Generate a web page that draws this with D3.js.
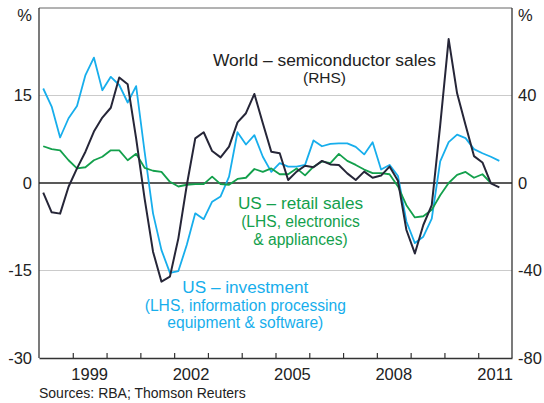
<!DOCTYPE html>
<html>
<head>
<meta charset="utf-8">
<script src="https://cdn.jsdelivr.net/npm/d3@7"></script>
<style>
  body { margin: 0; background: #fff; }
  text { font-family: "Liberation Sans", Arial, sans-serif; }
</style>
</head>
<body>
<div id="chart"></div>
<script>
// quarterly observations, first one is 1998 Q1
var startYear = 1998;
var yearTicks = [1999, 2002, 2005, 2008, 2011];
var leftTicks = [-30, -15, 0, 15];
var rightTicks = [-80, -40, 0, 40];

// US investment, information processing equipment & software (LHS, %)
var investment = [16.2, 13.1, 7.8, 11.1, 13.2, 18.5, 21.5, 15.9, 18.2, 16.8,
  13.8, 16.6, 5.4, -5.2, -11.5, -15.4, -15.1, -10.6, -5.2, -6.2,
  -3.2, -2.3, 1.1, 8.7, 6.6, 8.2, 4.5, 1.9, 3.4, 2.8,
  2.8, 3.1, 7.3, 6.3, 6.7, 6.8, 6.8, 6.2, 4.9, 7.0,
  2.3, 3.1, 1.2, -6.6, -10.3, -9.2, -6.1, 3.7, 7.0, 8.3,
  7.7, 5.8, 5.1, 4.5, 3.8];

// US retail sales, electronics & appliances (LHS, %)
var retail = [6.3, 5.8, 5.6, 3.9, 2.5, 2.7, 3.9, 4.5, 5.6, 5.6,
  3.9, 5.0, 2.6, 2.1, 1.9, 0.2, -0.6, -0.3, -0.2, -0.2,
  1.1, -0.2, -0.3, 0.7, 0.9, 2.4, 1.9, 2.5, 1.5, 1.5,
  2.5, 1.3, 2.8, 3.7, 3.4, 5.0, 3.8, 3.1, 2.3, 1.7,
  1.7, 1.5, -0.6, -3.8, -5.9, -5.7, -4.6, -2.1, 0.0, 1.4,
  1.9, 0.9, 1.5, 0.0];

// World semiconductor sales (RHS, %)
var semis = [-4.4, -13.4, -14.0, -1.7, 6.7, 14.3, 23.5, 29.9, 34.4, 48.2,
  45.1, 20.4, -7.0, -31.4, -45.1, -42.8, -25.3, -0.9, 20.4, 23.2,
  14.6, 11.7, 16.6, 27.7, 31.9, 40.7, 27.3, 14.3, 13.6, 1.4,
  5.2, 7.9, 7.2, 10.1, 8.5, 8.2, 4.4, 1.4, 5.2, 2.4,
  3.4, 7.5, 1.0, -21.5, -32.2, -19.2, -10.1, 26.5, 65.8, 41.0,
  26.5, 12.3, 9.4, -0.2, -2.0];

var width = 544, height = 403;
var plotL = 39, plotR = 512, plotT = 8, plotB = 358;

var svg = d3.select('#chart').append('svg')
  .attr('width', width)
  .attr('height', height);

var x = d3.scaleLinear().domain([1998, 2012]).range([plotL, plotR]);
var yL = d3.scaleLinear().domain([-30, 30]).range([plotB, plotT]);
var yR = d3.scaleLinear().domain([-80, 80]).range([plotB, plotT]);

// mid-quarter position
function qx(i) { return x(startYear + (i + 0.5) / 4); }

// grid lines
svg.selectAll('.grid')
  .data([-15, 15])
  .enter().append('line')
  .attr('x1', plotL).attr('x2', plotR)
  .attr('y1', d => yL(d)).attr('y2', d => yL(d))
  .attr('stroke', '#cbcbcb').attr('stroke-width', 1.2);

// frame
svg.append('line').attr('x1', plotL).attr('x2', plotR).attr('y1', plotT).attr('y2', plotT)
  .attr('stroke', '#666').attr('stroke-width', 1);
svg.append('line').attr('x1', plotL).attr('x2', plotL).attr('y1', plotT).attr('y2', plotB)
  .attr('stroke', '#333').attr('stroke-width', 1.3);
svg.append('line').attr('x1', plotR).attr('x2', plotR).attr('y1', plotT).attr('y2', plotB)
  .attr('stroke', '#333').attr('stroke-width', 1.3);

// bottom axis with inward ticks at each year
var xAxis = d3.axisBottom(x)
  .tickValues(d3.range(1999, 2012))
  .tickSizeInner(-5).tickSizeOuter(0)
  .tickFormat('');
var gx = svg.append('g').attr('transform', 'translate(0,' + plotB + ')').call(xAxis);
gx.select('.domain').attr('stroke', '#333').attr('stroke-width', 1.3);
gx.selectAll('.tick line').attr('stroke', '#333').attr('stroke-width', 1.2);

svg.selectAll('.xlab')
  .data(yearTicks)
  .enter().append('text')
  .attr('x', d => x(d + 0.5))
  .attr('y', 380)
  .attr('text-anchor', 'middle')
  .attr('font-size', 16.5)
  .attr('fill', '#222')
  .text(d => d);

// left and right tick labels
svg.selectAll('.ylab')
  .data(leftTicks)
  .enter().append('text')
  .attr('x', 32)
  .attr('y', d => yL(d))
  .attr('dy', '0.36em')
  .attr('text-anchor', 'end')
  .attr('font-size', 16.5)
  .attr('fill', '#222')
  .text(d => d);
svg.selectAll('.rlab')
  .data(rightTicks)
  .enter().append('text')
  .attr('x', 518)
  .attr('y', d => yR(d))
  .attr('dy', '0.36em')
  .attr('font-size', 16.5)
  .attr('fill', '#222')
  .text(d => d);
svg.append('text').attr('x', 32).attr('y', 21).attr('text-anchor', 'end')
  .attr('font-size', 16.5).attr('fill', '#222').text('%');
svg.append('text').attr('x', 518).attr('y', 21)
  .attr('font-size', 16.5).attr('fill', '#222').text('%');

// zero line
svg.append('line').attr('x1', plotL).attr('x2', plotR)
  .attr('y1', yL(0)).attr('y2', yL(0))
  .attr('stroke', '#222').attr('stroke-width', 1.3);

// series
var lineL = d3.line().x((d, i) => qx(i)).y(d => yL(d));
var lineR = d3.line().x((d, i) => qx(i)).y(d => yR(d));

svg.append('path').datum(investment).attr('d', lineL)
  .attr('fill', 'none').attr('stroke', '#17aeec').attr('stroke-width', 1.8)
  .attr('stroke-linejoin', 'round');
svg.append('path').datum(retail).attr('d', lineL)
  .attr('fill', 'none').attr('stroke', '#13a04c').attr('stroke-width', 1.8)
  .attr('stroke-linejoin', 'round');
svg.append('path').datum(semis).attr('d', lineR)
  .attr('fill', 'none').attr('stroke', '#262638').attr('stroke-width', 2)
  .attr('stroke-linejoin', 'round');

// annotations
function label(lines, cx, color) {
  lines.forEach(function(l) {
    svg.append('text')
      .attr('x', cx)
      .attr('y', l.y)
      .attr('text-anchor', 'middle')
      .attr('font-size', l.size)
      .attr('fill', color)
      .text(l.t);
  });
}
label([{ t: 'World – semiconductor sales', y: 65.5, size: 17.4 },
       { t: '(RHS)', y: 83, size: 15.5 }], 324.5, '#222');
label([{ t: 'US – retail sales', y: 209, size: 17.2 },
       { t: '(LHS, electronics', y: 227, size: 15.6 },
       { t: '& appliances)', y: 245, size: 15.6 }], 300.5, '#13a04c');
label([{ t: 'US – investment', y: 292.5, size: 17.2 },
       { t: '(LHS, information processing', y: 310.5, size: 15.6 },
       { t: 'equipment & software)', y: 328, size: 15.6 }], 245.3, '#17aeec');

svg.append('text').attr('x', 39).attr('y', 398)
  .attr('font-size', 14).attr('fill', '#222')
  .text('Sources: RBA; Thomson Reuters');
</script>
</body>
</html>
